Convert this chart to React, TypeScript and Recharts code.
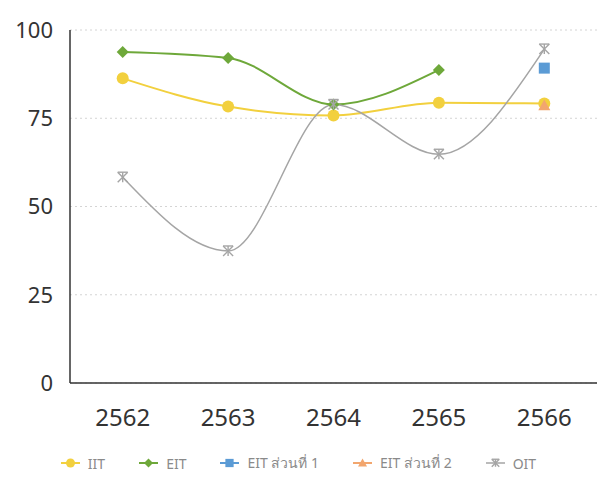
import { LineChart, Line, XAxis, YAxis, CartesianGrid, Legend } from 'recharts'

const years = ['2562', '2563', '2564', '2565', '2566']
const iit = [86.3, 78.3, 75.8, 79.4, 79.2]
const eit = [93.8, 92.1, 78.9, 88.7, null]
const eitPart1 = [null, null, null, null, 89.2]
const eitPart2 = [null, null, null, null, 78.6]
const oit = [58.3, 37.4, 78.9, 64.8, 94.6]
const yTicks = [0, 25, 50, 75, 100]

const data = years.map((year, i) => ({
  year,
  IIT: iit[i],
  EIT: eit[i],
  'EIT ส่วนที่ 1': eitPart1[i],
  'EIT ส่วนที่ 2': eitPart2[i],
  OIT: oit[i],
}))

type Shape = 'circle' | 'diamond' | 'square' | 'triangle' | 'star'

const series: { key: string; color: string; shape: Shape; width: number }[] = [
  { key: 'IIT', color: '#F2D03E', shape: 'circle', width: 2 },
  { key: 'EIT', color: '#6EA83A', shape: 'diamond', width: 2 },
  { key: 'EIT ส่วนที่ 1', color: '#5B9BD5', shape: 'square', width: 2 },
  { key: 'EIT ส่วนที่ 2', color: '#F2A66E', shape: 'triangle', width: 2 },
  { key: 'OIT', color: '#A5A5A5', shape: 'star', width: 1.5 },
]

const FONT = '"Noto Sans", "DejaVu Sans", sans-serif'

function Marker({ shape, cx, cy, color, s = 1 }: { shape: Shape; cx: number; cy: number; color: string; s?: number }) {
  if (shape === 'circle') return <circle cx={cx} cy={cy} r={6 * s} fill={color} />
  if (shape === 'diamond') {
    const r = 6 * s
    return <polygon points={`${cx},${cy - r} ${cx + r},${cy} ${cx},${cy + r} ${cx - r},${cy}`} fill={color} />
  }
  if (shape === 'square') {
    const r = 5.5 * s
    return <rect x={cx - r} y={cy - r} width={r * 2} height={r * 2} fill={color} />
  }
  if (shape === 'triangle') {
    const r = 6 * s
    return <polygon points={`${cx},${cy - r} ${cx + r},${cy + r * 0.8} ${cx - r},${cy + r * 0.8}`} fill={color} />
  }
  const r = 5 * s
  return (
    <g stroke={color} strokeWidth={1.4}>
      <line x1={cx - r} y1={cy - r} x2={cx + r} y2={cy + r} />
      <line x1={cx - r} y1={cy + r} x2={cx + r} y2={cy - r} />
      <line x1={cx} y1={cy - r} x2={cx} y2={cy + r} />
      <line x1={cx - r} y1={cy - r} x2={cx + r} y2={cy - r} />
    </g>
  )
}

function LegendContent() {
  return (
    <div style={{ display: 'flex', justifyContent: 'center', alignItems: 'center', height: 24, gap: 34 }}>
      {series.map((s) => (
        <div key={s.key} style={{ display: 'flex', alignItems: 'center' }}>
          <svg width={19} height={14} style={{ marginRight: 8 }}>
            <line x1={0} y1={7} x2={19} y2={7} stroke={s.color} strokeWidth={s.width} />
            <Marker shape={s.shape} cx={9.5} cy={7} color={s.color} s={0.75} />
          </svg>
          <span style={{ fontFamily: FONT, fontSize: 14, color: '#8a8a8a' }}>{s.key}</span>
        </div>
      ))}
    </div>
  )
}

export default function App() {
  return (
    <div style={{ position: 'fixed', left: 0, top: 0, background: '#fff' }}>
      <LineChart width={597} height={487} data={data} margin={{ top: 30, right: 0, left: 0, bottom: 12 }}>
        <CartesianGrid vertical={false} stroke="#d4d4d4" strokeDasharray="2 3" />
        <XAxis
          dataKey="year"
          scale="band"
          height={68}
          tickSize={0}
          tickMargin={26}
          axisLine={{ stroke: '#333', strokeWidth: 1.5 }}
          tick={{ fontSize: 24, fill: '#333', fontFamily: FONT }}
        />
        <YAxis
          width={70}
          domain={[0, 100]}
          ticks={yTicks}
          tickSize={0}
          tickMargin={17}
          axisLine={{ stroke: '#333', strokeWidth: 1.5 }}
          tick={{ fontSize: 22, fill: '#333', fontFamily: FONT }}
        />
        <Legend verticalAlign="bottom" content={<LegendContent />} wrapperStyle={{ left: 0, width: 597 }} />
        {series.map((s) => (
          <Line
            key={s.key}
            type="monotone"
            dataKey={s.key}
            stroke={s.color}
            strokeWidth={s.width}
            isAnimationActive={false}
            activeDot={false}
            dot={(p: any) =>
              p.cx == null || p.cy == null || p.value == null ? (
                <g key={`${s.key}-${p.index}`} />
              ) : (
                <Marker key={`${s.key}-${p.index}`} shape={s.shape} cx={p.cx} cy={p.cy} color={s.color} />
              )
            }
          />
        ))}
      </LineChart>
    </div>
  )
}
